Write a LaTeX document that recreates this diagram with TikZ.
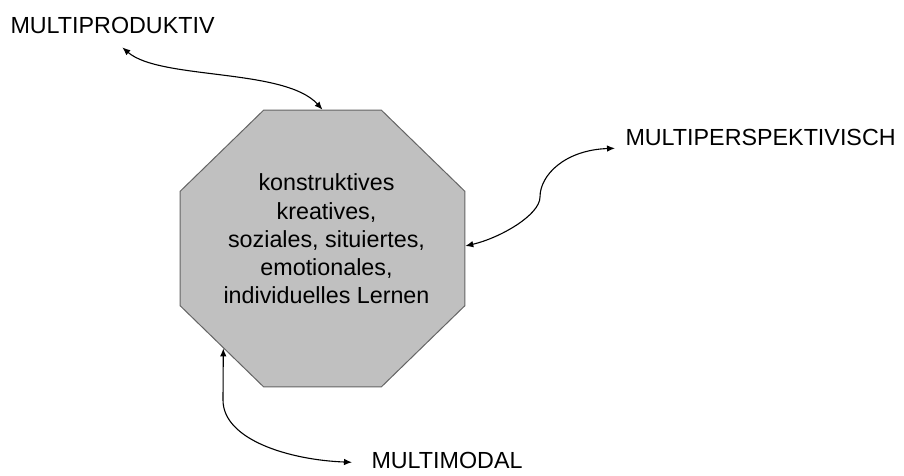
\documentclass[tikz,border=0pt]{standalone}
\usepackage{fontspec}
\setsansfont{Liberation Sans}
\usetikzlibrary{positioning,shapes.geometric,arrows.meta,calc}
\definecolor{silber}{RGB}{192,192,192}
\definecolor{randgrau}{RGB}{100,100,100}
\tikzset{
    Lernfeld/.style={regular polygon, regular polygon sides=8, draw=randgrau, fill=silber, line width=1pt, minimum size=308pt, inner sep=0pt, transform shape, yscale=0.972},
    Etikett/.style={inner sep=0pt, anchor=base west},
    Inhalt/.style={align=center, inner sep=0pt},
    Pfeil/.style={{Latex[length=8pt,width=6.5pt]}-{Latex[length=8pt,width=6.5pt]}, line width=1.1pt}
    }
\begin{document}
\begin{tikzpicture}[x=1pt,y=-1pt,font={\sffamily\fontsize{23.3}{28.25}\selectfont}]
\useasboundingbox (0,0) rectangle (904,475);

\node[Lernfeld] (Lernen) at (322.5,248.5) {};
\node[Inhalt] (LernText) at (326.5,239) {konstruktives\\kreatives,\\soziales, situiertes,\\emotionales,\\individuelles Lernen};

\node[Etikett] (Produktiv) at (10.3,33) {MULTIPRODUKTIV};
\node[Etikett] (Perspektiv) at (625.3,145) {MULTIPERSPEKTIVISCH};
\node[Etikett] (Modal) at (371.3,468) {MULTIMODAL};

%\draw[Pfeil] (Produktiv) -- (Lernen);
\draw[Pfeil] ([shift={(9.8pt,-14pt)}]Produktiv.south) .. controls (160,80) and (285,68) .. (Lernen.north);

\draw[Pfeil] ([yshift=2.5pt]Lernen.east) .. controls (500,238) and (540,215) .. (540,197) .. controls (540,175) and (565,150) .. ([shift={(-10.3pt,-11.3pt)}]Perspektiv.west);

\draw[Pfeil] (Lernen.-134) -- (223,400) .. controls (223,440) and (290,460) .. ([shift={(-19.3pt,-2.3pt)}]Modal.west);

\end{tikzpicture}
\end{document}
